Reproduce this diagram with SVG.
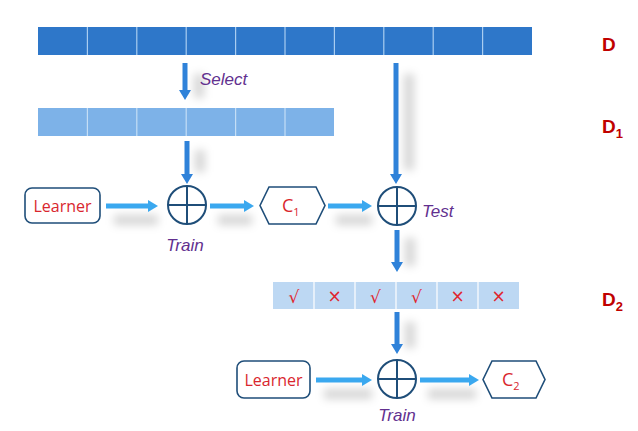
<svg xmlns="http://www.w3.org/2000/svg" width="638" height="431" viewBox="0 0 638 431">
<style>
.lbl{font-family:"Open Sans","Liberation Sans",Arial,sans-serif;font-size:16px;fill:#d9262e}
.cl{font-family:"Open Sans","Liberation Sans",Arial,sans-serif;font-size:18px;fill:#d9262e}
.it{font-family:"Liberation Sans",Arial,sans-serif;font-size:17px;font-style:italic;fill:#62308f}
.dl{font-family:"Liberation Sans",Arial,sans-serif;font-size:19px;font-weight:bold;fill:#c00000}
.mk{font-family:"DejaVu Sans","Liberation Sans",sans-serif;font-size:17px;fill:#e0262e;text-anchor:middle}
.box{fill:#fff;stroke:#1f4e79;stroke-width:1.6}
.circ{fill:#fff;stroke:#1f4e79;stroke-width:2}
.v{stroke:#2f82d9;stroke-width:5;fill:none}
.h{stroke:#3aa8ef;stroke-width:5;fill:none}
.sh{stroke:#000;stroke-opacity:0.16;stroke-width:10;fill:none}
</style>
<defs>
<filter id="blur" filterUnits="userSpaceOnUse" x="0" y="0" width="638" height="431"><feGaussianBlur stdDeviation="4.5"/></filter>
<marker id="av" viewBox="0 0 10 12" refX="0" refY="6" markerWidth="10" markerHeight="12" markerUnits="userSpaceOnUse" orient="auto"><path d="M0,0 L10,6 L0,12 Z" fill="#2f82d9"/></marker>
<marker id="ah" viewBox="0 0 10 12" refX="0" refY="6" markerWidth="10" markerHeight="12" markerUnits="userSpaceOnUse" orient="auto"><path d="M0,0 L10,6 L0,12 Z" fill="#3aa8ef"/></marker>
</defs>
<rect width="638" height="431" fill="#fff"/>

<g id="shadows" filter="url(#blur)">
<line class="sh" x1="199" y1="74" x2="199" y2="98"/>
<line class="sh" x1="409" y1="74" x2="409" y2="170"/>
<line class="sh" x1="200" y1="150" x2="200" y2="172"/>
<line class="sh" x1="114" y1="220" x2="158" y2="220"/>
<line class="sh" x1="218" y1="220" x2="252" y2="220"/>
<line class="sh" x1="336" y1="220" x2="372" y2="220"/>
<line class="sh" x1="410" y1="238" x2="410" y2="266"/>
<line class="sh" x1="410" y1="322" x2="410" y2="348"/>
<line class="sh" x1="324" y1="394" x2="372" y2="394"/>
<line class="sh" x1="428" y1="394" x2="476" y2="394"/>
</g>

<g id="D">
<rect x="38" y="27" width="494" height="28" fill="#2e77c9"/>
<g stroke="#a9cdf1" stroke-width="1.2">
<line x1="87.4" y1="27" x2="87.4" y2="55"/><line x1="136.8" y1="27" x2="136.8" y2="55"/><line x1="186.2" y1="27" x2="186.2" y2="55"/><line x1="235.6" y1="27" x2="235.6" y2="55"/><line x1="285" y1="27" x2="285" y2="55"/><line x1="334.4" y1="27" x2="334.4" y2="55"/><line x1="383.8" y1="27" x2="383.8" y2="55"/><line x1="433.2" y1="27" x2="433.2" y2="55"/><line x1="482.6" y1="27" x2="482.6" y2="55"/>
</g>
<text class="dl" x="602" y="51">D</text>
</g>

<g id="D1">
<rect x="38" y="108" width="296" height="28" fill="#7db2e8"/>
<g stroke="#c4def6" stroke-width="1.2">
<line x1="87.4" y1="108" x2="87.4" y2="136"/><line x1="136.8" y1="108" x2="136.8" y2="136"/><line x1="186.2" y1="108" x2="186.2" y2="136"/><line x1="235.6" y1="108" x2="235.6" y2="136"/><line x1="285" y1="108" x2="285" y2="136"/>
</g>
<text class="dl" x="602" y="133">D<tspan style="font-size:13px" dy="5">1</tspan></text>
</g>

<g id="D2">
<rect x="273" y="282" width="246" height="27" fill="#bdd8f3"/>
<g stroke="#ffffff" stroke-width="1.2">
<line x1="314" y1="282" x2="314" y2="309"/><line x1="355" y1="282" x2="355" y2="309"/><line x1="396" y1="282" x2="396" y2="309"/><line x1="437" y1="282" x2="437" y2="309"/><line x1="478" y1="282" x2="478" y2="309"/>
</g>
<text class="mk" x="294" y="303">√</text>
<text class="mk" x="334.5" y="302">×</text>
<text class="mk" x="375.5" y="303">√</text>
<text class="mk" x="416.5" y="303">√</text>
<text class="mk" x="457.5" y="302">×</text>
<text class="mk" x="498.5" y="302">×</text>
<text class="dl" x="602" y="306">D<tspan style="font-size:13px" dy="5">2</tspan></text>
</g>

<g id="learner1">
<rect class="box" x="25" y="188" width="75" height="35" rx="7"/>
<text class="lbl" x="62.5" y="211.5" text-anchor="middle">Learner</text>
</g>
<g id="train1">
<circle class="circ" cx="187" cy="205" r="19"/>
<line x1="168" y1="205" x2="206" y2="205" stroke="#1f4e79" stroke-width="2"/>
<line x1="187" y1="186" x2="187" y2="224" stroke="#1f4e79" stroke-width="2"/>
<text class="it" x="185" y="251" text-anchor="middle">Train</text>
</g>
<g id="C1">
<polygon class="box" points="260,205.5 269,187 316,187 325,205.5 316,224 269,224"/>
<text class="cl" x="282" y="212">C<tspan style="font-size:11px" dy="4">1</tspan></text>
</g>
<g id="test">
<circle class="circ" cx="397" cy="206" r="19"/>
<line x1="378" y1="206" x2="416" y2="206" stroke="#1f4e79" stroke-width="2"/>
<line x1="397" y1="187" x2="397" y2="225" stroke="#1f4e79" stroke-width="2"/>
<text class="it" x="422" y="217">Test</text>
</g>
<g id="learner2">
<rect class="box" x="237" y="361" width="73" height="37" rx="7"/>
<text class="lbl" x="273.5" y="385.5" text-anchor="middle">Learner</text>
</g>
<g id="train2">
<circle class="circ" cx="397" cy="379" r="19"/>
<line x1="378" y1="379" x2="416" y2="379" stroke="#1f4e79" stroke-width="2"/>
<line x1="397" y1="360" x2="397" y2="398" stroke="#1f4e79" stroke-width="2"/>
<text class="it" x="397" y="421" text-anchor="middle">Train</text>
</g>
<g id="C2">
<polygon class="box" points="483,379.5 492,361 536,361 545,379.5 536,398 492,398"/>
<text class="cl" x="502" y="386">C<tspan style="font-size:11px" dy="4">2</tspan></text>
</g>

<g id="connectors">
<line class="v" x1="185" y1="63" x2="185" y2="90" marker-end="url(#av)"/>
<text class="it" x="200" y="85">Select</text>
<line class="v" x1="396" y1="63" x2="396" y2="174" marker-end="url(#av)"/>
<line class="v" x1="187" y1="141" x2="187" y2="174" marker-end="url(#av)"/>
<line class="h" x1="106" y1="206" x2="148" y2="206" marker-end="url(#ah)"/>
<line class="h" x1="210" y1="206" x2="244" y2="206" marker-end="url(#ah)"/>
<line class="h" x1="328" y1="206" x2="362" y2="206" marker-end="url(#ah)"/>
<line class="v" x1="397" y1="230" x2="397" y2="262" marker-end="url(#av)"/>
<line class="v" x1="397" y1="312" x2="397" y2="344" marker-end="url(#av)"/>
<line class="h" x1="316" y1="380" x2="362" y2="380" marker-end="url(#ah)"/>
<line class="h" x1="420" y1="380" x2="469" y2="380" marker-end="url(#ah)"/>
</g>
</svg>
